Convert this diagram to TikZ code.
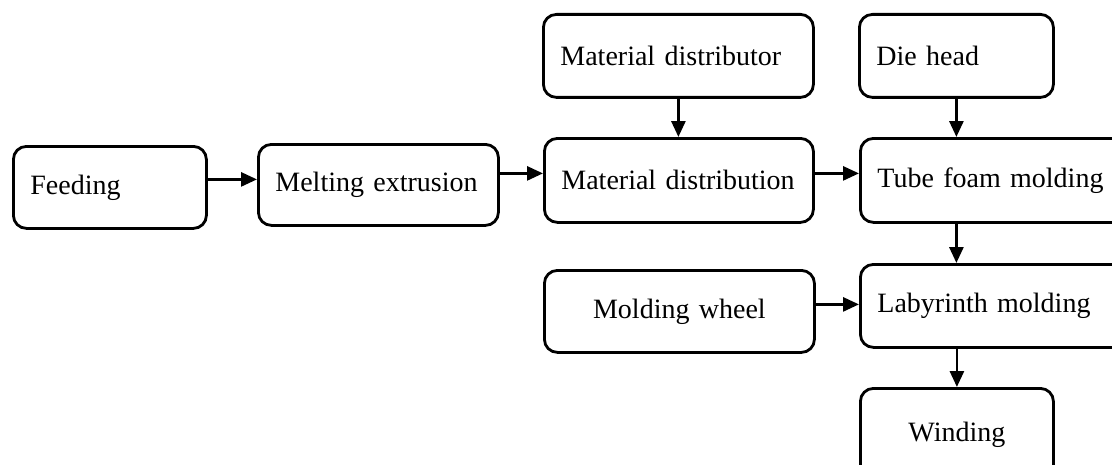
\documentclass[tikz,border=0pt]{standalone}
\usepackage{fontspec}
\setmainfont{Liberation Serif}
\usetikzlibrary{arrows.meta}
\tikzset{
  box/.style={draw=black, line width=1.4pt, rounded corners=6.5pt, anchor=north west,
    inner xsep=8.5pt, inner ysep=0pt, font=\fontsize{14pt}{16pt}\selectfont, fill=white},
  lbox/.style={box, align=left},
  cbox/.style={box, align=center},
  arr/.style={line width=1.4pt, -{Triangle[length=8pt,width=7pt]}},
}
\begin{document}
\begin{tikzpicture}[x=0.5pt,y=-0.5pt]
\clip (0,0) rectangle (1112,465);
\fill[white] (0,0) rectangle (1112,465);
% nodes: width w px -> text width (w-34)*0.5pt
\node[lbox, text width=79.5pt, minimum height=41pt] (feed) at (12,145) {Feeding};
\node[lbox, text width=103pt, minimum height=40.5pt] (melt) at (257,143) {Melting extrusion};
\node[lbox, text width=118pt, minimum height=41.5pt] (mdist) at (542,13) {Material distributor};
\node[lbox, text width=117.5pt, minimum height=42pt] (mdtn) at (543,137) {Material distribution};
\node[lbox, text width=80pt, minimum height=41.5pt] (die) at (858,13) {Die head};
\node[lbox, text width=140pt, minimum height=42pt] (tube) at (859,137) {Tube foam molding};
\node[lbox, text width=140pt, minimum height=41.5pt] (laby) at (859,263) {Labyrinth molding};
\node[cbox, text width=118pt, minimum height=41pt] (wheel) at (543,269) {Molding wheel};
\node[cbox, text width=79.5pt, minimum height=48pt] (wind) at (859,387) {\raisebox{5pt}{Winding}};
% connectors
\coordinate (a1) at ([yshift=4pt]feed.east);
\draw[arr] (a1) -- (a1 -| melt.west);
\coordinate (a2) at ([yshift=5.75pt]melt.east);
\draw[arr] (a2) -- (a2 -| mdtn.west);
\draw[arr] (mdist.south) -- (mdist.south |- mdtn.north);
\coordinate (a3) at ([yshift=3.5pt]mdtn.east);
\draw[arr] (a3) -- (a3 -| tube.west);
\draw[arr] (die.south) -- (die.south |- tube.north);
\draw[arr] (die.south |- tube.south) -- (die.south |- laby.north);
\coordinate (a4) at ([yshift=3.5pt]wheel.east);
\draw[arr] (a4) -- (a4 -| laby.west);
\draw[arr] (wind.north |- laby.south) -- (wind.north);
\end{tikzpicture}
\end{document}
